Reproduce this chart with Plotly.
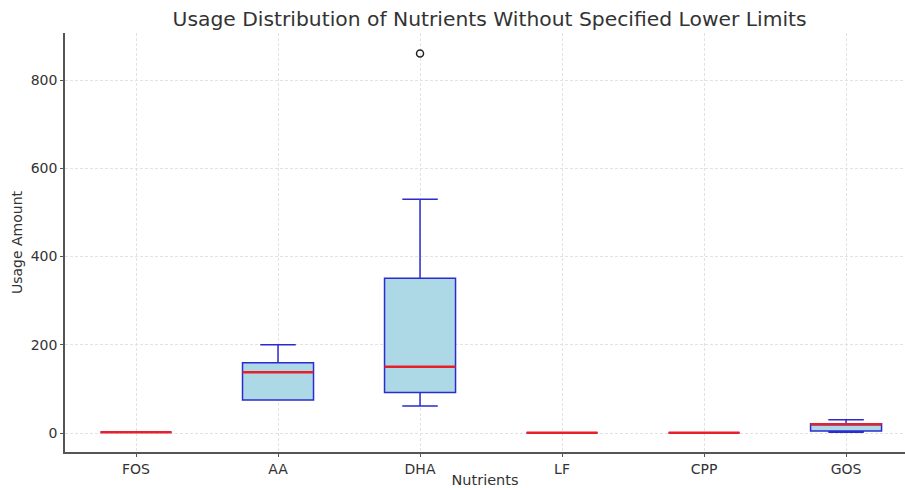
import plotly.graph_objects as go

nutrients = ["FOS", "AA", "DHA", "LF", "CPP", "GOS"]
q1 = [2, 75, 92, 0.5, 0.5, 4.5]
median = [2, 138, 150, 0.5, 0.5, 20]
q3 = [2, 159, 351, 0.5, 0.5, 21]
lower_whisker = [2, 75, 61, 0.5, 0.5, 1.5]
upper_whisker = [2, 200, 530, 0.5, 0.5, 30]
outlier_nutrient = ["DHA"]
outlier_value = [860]

pos = list(range(len(nutrients)))
BOX_W = 0.5

fig = go.Figure()
fig.add_trace(go.Box(
    x=pos, q1=q1, median=median, q3=q3,
    lowerfence=lower_whisker, upperfence=upper_whisker,
    width=BOX_W, whiskerwidth=0.5,
    fillcolor="#add8e6",
    line=dict(color="#2b2bd0", width=1.5),
    boxpoints=False, showlegend=False, hoverinfo="skip",
))

mx, my = [], []
for i, m in zip(pos, median):
    mx += [i - BOX_W / 2, i + BOX_W / 2, None]
    my += [m, m, None]
fig.add_trace(go.Scatter(x=mx, y=my, mode="lines",
                         line=dict(color="#e8202a", width=2.5),
                         showlegend=False, hoverinfo="skip"))

fig.add_trace(go.Scatter(
    x=[nutrients.index(n) for n in outlier_nutrient], y=outlier_value,
    mode="markers",
    marker=dict(symbol="circle-open", size=7, color="#222", line=dict(width=1.5)),
    showlegend=False, hoverinfo="skip"))

font = "DejaVu Sans, sans-serif"
grid = dict(showgrid=True, gridcolor="#e2e2e2", griddash="3px,2px", gridwidth=1)
fig.update_layout(
    width=905, height=488,
    margin=dict(l=65, r=0, t=33, b=36),
    plot_bgcolor="white", paper_bgcolor="white",
    font=dict(family=font, size=14, color="#333"),
    title=dict(text="Usage Distribution of Nutrients Without Specified Lower Limits",
               x=0.541, xanchor="center", y=0.961, yanchor="middle",
               font=dict(size=20.3, color="#333")),
    xaxis=dict(
        range=[-0.5, 5.415], tickmode="array", tickvals=pos, ticktext=nutrients,
        showline=True, linecolor="#555", linewidth=1.5,
        ticks="outside", ticklen=3, tickcolor="#555",
        zeroline=False, tickfont=dict(size=14), automargin=False,
        title=dict(text="Nutrients", standoff=3, font=dict(size=14.5)),
        **grid,
    ),
    yaxis=dict(
        range=[-43, 906.5], tickvals=[0, 200, 400, 600, 800],
        showline=True, linecolor="#555", linewidth=1.5,
        ticks="outside", ticklen=3, tickcolor="#555",
        zeroline=False, tickfont=dict(size=14), automargin=False,
        title=dict(text="Usage Amount", standoff=5, font=dict(size=14)),
        **grid,
    ),
)

fig.write_html("out.html")
